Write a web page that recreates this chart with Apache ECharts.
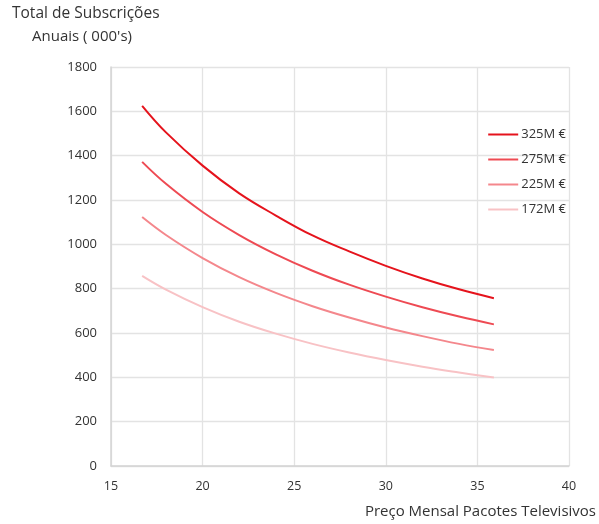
<!DOCTYPE html>
<html>
<head>
<meta charset="utf-8">
<script src="https://cdn.jsdelivr.net/npm/echarts@6/dist/echarts.min.js"></script>
<style>html,body{margin:0;padding:0;background:#fff}#c{width:599px;height:524px}</style>
</head>
<body>
<div id="c"></div>
<script>
var prices = [16.7, 18, 20, 22, 24, 26, 28, 30, 32, 34, 35.9];
var seriesNames = ['325M €', '275M €', '225M €', '172M €'];
var s325 = [1625, 1505, 1355, 1230, 1130, 1040, 968, 903, 846, 797, 757];
var s275 = [1372, 1273, 1146, 1042, 955, 881, 818, 764, 716, 674, 639];
var s225 = [1123, 1042, 938, 852, 781, 721, 670, 625, 586, 551, 523];
var s172 = [858, 796, 717, 651, 597, 551, 512, 478, 448, 422, 399];
var colors = ['#e5131c', '#ee4a53', '#f4878c', '#f8c2c5'];
var values = [s325, s275, s225, s172];

var chart = echarts.init(document.getElementById('c'));
var font = "'Open Sans', sans-serif";
chart.setOption({
  animation: false,
  textStyle: {fontFamily: font},
  title: [
    {text: 'Total de Subscrições', left: 12, top: 6, padding: 0, textStyle: {fontSize: 15.5, fontWeight: 'normal', color: '#333', fontFamily: font}},
    {text: "Anuais ( 000's)", left: 32, top: 29, padding: 0, textStyle: {fontSize: 15, fontWeight: 'normal', color: '#333', fontFamily: font}},
    {text: 'Preço Mensal Pacotes Televisivos', right: 3, top: 504, padding: 0, textStyle: {fontSize: 15, fontWeight: 'normal', color: '#333', fontFamily: font}}
  ],
  legend: {
    orient: 'vertical', right: 28, top: 123, itemGap: 12,
    itemWidth: 30, itemHeight: 2,
    icon: 'rect',
    textStyle: {fontSize: 13, color: '#333', fontFamily: font, padding: [0,0,0,-2]},
    data: seriesNames
  },
  grid: {left: 111, right: 30, top: 67, bottom: 58},
  xAxis: {
    type: 'value', min: 15, max: 40, interval: 5,
    axisLine: {show: true, lineStyle: {color: '#d4d4d4', width: 1.5}},
    axisTick: {show: false},
    axisLabel: {fontSize: 12.5, color: '#333', margin: 14},
    splitLine: {show: true, lineStyle: {color: '#e3e3e3', width: 1.3}}
  },
  yAxis: {
    type: 'value', min: 0, max: 1800, interval: 200,
    axisLine: {show: true, lineStyle: {color: '#d4d4d4', width: 1.5}},
    axisTick: {show: false},
    axisLabel: {fontSize: 13, color: '#333', margin: 14, formatter: function (v) { return String(v); }},
    splitLine: {show: true, lineStyle: {color: '#e3e3e3', width: 1.3}}
  },
  series: seriesNames.map(function (n, i) {
    return {
      name: n, type: 'line', smooth: 0.4, showSymbol: false, symbol: 'none',
      color: colors[i],
      lineStyle: {width: 2, color: colors[i]},
      data: prices.map(function (p, j) { return [p, values[i][j]]; })
    };
  })
});
</script>
</body>
</html>
